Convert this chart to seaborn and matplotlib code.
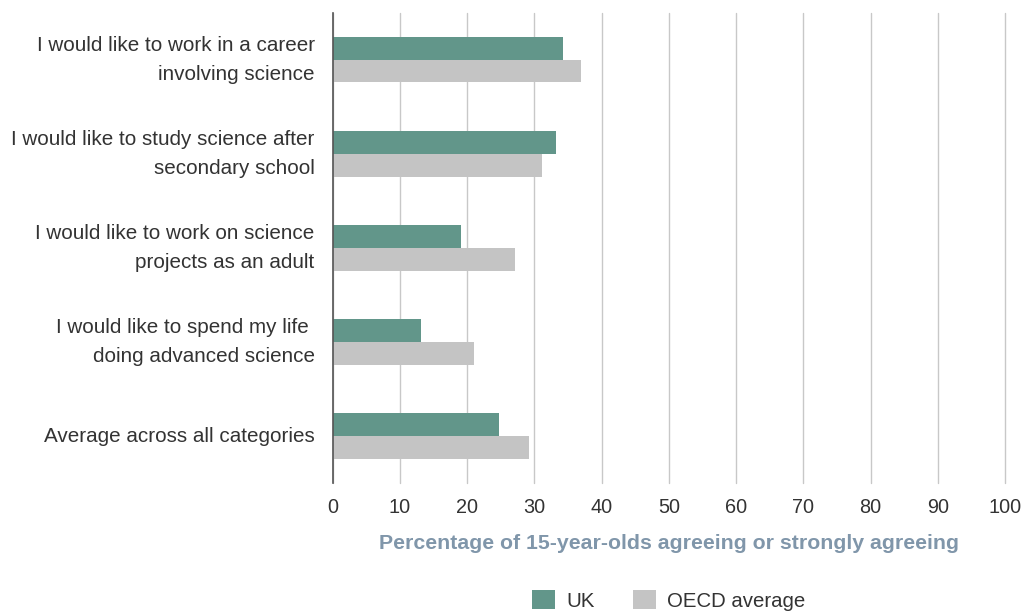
import matplotlib
matplotlib.use("Agg")
import matplotlib.pyplot as plt
import seaborn as sns
import pandas as pd
from matplotlib.patches import Patch

categories = [
    "I would like to work in a career\ninvolving science",
    "I would like to study science after\nsecondary school",
    "I would like to work on science\nprojects as an adult",
    "I would like to spend my life \ndoing advanced science",
    "Average across all categories",
]
uk = [34.2, 33.2, 19.1, 13.1, 24.7]
oecd = [37.0, 31.1, 27.1, 21.0, 29.2]
series = ["UK", "OECD average"]
colors = ["#62968a", "#c4c4c4"]
xticks = [0, 10, 20, 30, 40, 50, 60, 70, 80, 90, 100]

df = pd.DataFrame({
    "category": categories * 2,
    "value": uk + oecd,
    "series": [series[0]] * len(categories) + [series[1]] * len(categories),
})

sns.set_theme(style="white")
plt.rcParams["font.family"] = ["Liberation Sans", "DejaVu Sans"]

fig = plt.figure(figsize=(10.35, 6.15), dpi=100)
ax = fig.add_axes([0.3215, 0.2146, 0.6495, 0.7644])

sns.barplot(data=df, x="value", y="category", hue="series", orient="h",
            palette=colors, width=0.48, dodge=True, ax=ax, legend=False,
            saturation=1, linewidth=0, errorbar=None)

ax.set_xlim(0, 100)
ax.set_ylim(4.5, -0.5)
ax.set_xticks(xticks)
ax.set_xticklabels([str(t) for t in xticks], fontsize=14.3, color="#333333")
ax.xaxis.grid(True, color="#c8c8c8", linewidth=1)
for gl in ax.get_xgridlines():
    gl.set_clip_on(False)
ax.set_axisbelow(True)
ax.tick_params(axis="x", length=3, color="#c8c8c8", pad=8)
ax.tick_params(axis="y", length=0, pad=13)
for lbl in ax.get_yticklabels():
    lbl.set_fontsize(14.9)
    lbl.set_color("#333333")
    lbl.set_linespacing(1.7)
    lbl.set_ha("right")
    lbl.set_va("center")

for s in ["top", "right", "bottom"]:
    ax.spines[s].set_visible(False)
ax.spines["left"].set_color("#555555")
ax.spines["left"].set_linewidth(1.2)

ax.set_ylabel("")
ax.set_xlabel("Percentage of 15-year-olds agreeing or strongly agreeing",
              fontsize=15.3, fontweight="bold", color="#8096aa", labelpad=12)

handles = [Patch(facecolor=c, edgecolor="none") for c in colors]
fig.legend(handles, series, loc="center", bbox_to_anchor=(0.646, 0.024),
           ncol=2, frameon=False, fontsize=14.7, handlelength=1.1,
           handleheight=1.1, columnspacing=1.9, handletextpad=0.55,
           labelcolor="#333333")

fig.savefig("out.png", dpi=100)
